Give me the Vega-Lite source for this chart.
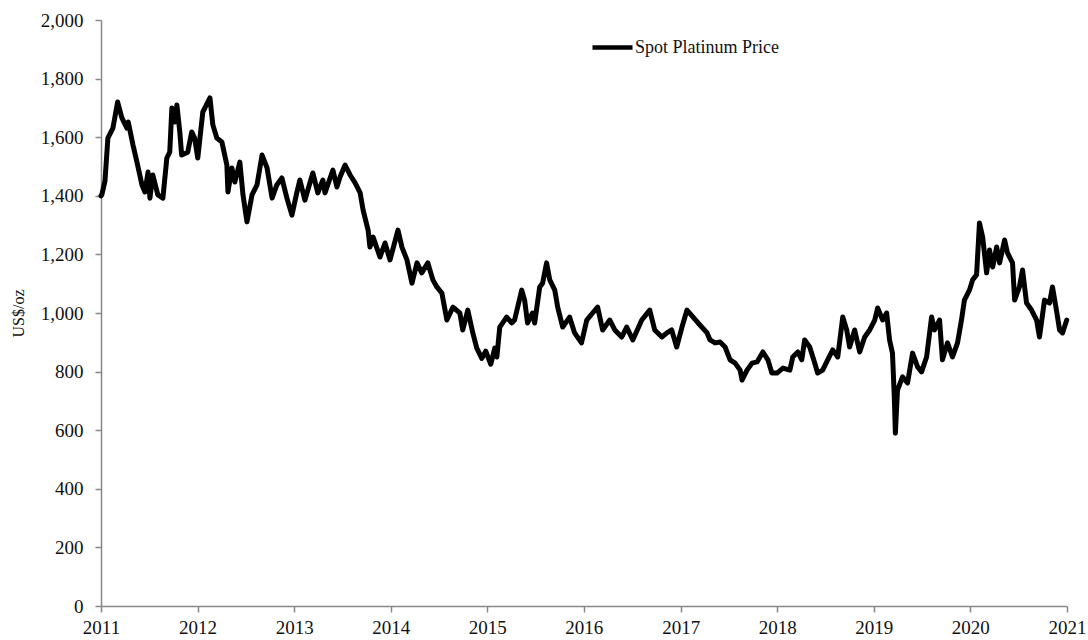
{
  "$schema": "https://vega.github.io/schema/vega-lite/v6.json",
  "width": 966,
  "height": 586,
  "autosize": "none",
  "padding": {"left": 101, "top": 20, "right": 21, "bottom": 34},
  "background": "white",
  "config": {"view": {"stroke": null}, "font": "Liberation Serif"},
  "data": {"values": [
    {"d":"2011-01-01","v":1400},{"d":"2011-01-04","v":1403},{"d":"2011-01-16","v":1450},{"d":"2011-01-27","v":1597},
    {"d":"2011-02-15","v":1631},{"d":"2011-03-05","v":1720},{"d":"2011-03-21","v":1666},{"d":"2011-04-09","v":1631},
    {"d":"2011-04-14","v":1652},{"d":"2011-05-02","v":1573},{"d":"2011-05-17","v":1515},{"d":"2011-06-05","v":1437},
    {"d":"2011-06-16","v":1413},{"d":"2011-06-28","v":1481},{"d":"2011-07-05","v":1392},{"d":"2011-07-16","v":1471},
    {"d":"2011-08-04","v":1403},{"d":"2011-08-23","v":1392},{"d":"2011-09-07","v":1529},{"d":"2011-09-18","v":1549},
    {"d":"2011-09-26","v":1700},{"d":"2011-10-07","v":1652},{"d":"2011-10-15","v":1710},{"d":"2011-10-26","v":1618},
    {"d":"2011-11-02","v":1539},{"d":"2011-11-25","v":1549},{"d":"2011-12-10","v":1618},{"d":"2011-12-21","v":1597},
    {"d":"2012-01-02","v":1529},{"d":"2012-01-21","v":1686},{"d":"2012-02-17","v":1734},{"d":"2012-02-28","v":1642},
    {"d":"2012-03-14","v":1597},{"d":"2012-04-02","v":1584},{"d":"2012-04-21","v":1505},{"d":"2012-04-25","v":1413},
    {"d":"2012-05-10","v":1495},{"d":"2012-05-21","v":1447},{"d":"2012-06-09","v":1515},{"d":"2012-06-21","v":1403},
    {"d":"2012-07-06","v":1311},{"d":"2012-07-25","v":1403},{"d":"2012-08-13","v":1437},{"d":"2012-09-01","v":1539},
    {"d":"2012-09-20","v":1495},{"d":"2012-10-09","v":1392},{"d":"2012-10-27","v":1437},{"d":"2012-11-15","v":1461},
    {"d":"2012-12-04","v":1392},{"d":"2012-12-23","v":1334},{"d":"2013-01-11","v":1413},{"d":"2013-01-22","v":1454},
    {"d":"2013-02-10","v":1385},{"d":"2013-03-12","v":1478},{"d":"2013-03-31","v":1410},{"d":"2013-04-19","v":1454},
    {"d":"2013-04-27","v":1410},{"d":"2013-05-27","v":1488},{"d":"2013-06-11","v":1430},{"d":"2013-06-23","v":1464},
    {"d":"2013-07-12","v":1505},{"d":"2013-07-31","v":1471},{"d":"2013-08-19","v":1444},{"d":"2013-09-07","v":1410},
    {"d":"2013-09-18","v":1352},{"d":"2013-10-07","v":1283},{"d":"2013-10-14","v":1225},{"d":"2013-10-26","v":1259},
    {"d":"2013-11-21","v":1191},{"d":"2013-12-10","v":1239},{"d":"2013-12-29","v":1181},{"d":"2014-01-28","v":1283},
    {"d":"2014-02-12","v":1225},{"d":"2014-03-03","v":1181},{"d":"2014-03-22","v":1102},{"d":"2014-04-10","v":1171},
    {"d":"2014-04-28","v":1137},{"d":"2014-05-21","v":1171},{"d":"2014-06-09","v":1113},{"d":"2014-06-24","v":1089},
    {"d":"2014-07-13","v":1068},{"d":"2014-08-01","v":976},{"d":"2014-08-24","v":1020},{"d":"2014-09-19","v":1000},
    {"d":"2014-09-30","v":942},{"d":"2014-10-19","v":1010},{"d":"2014-11-07","v":932},{"d":"2014-11-22","v":880},
    {"d":"2014-12-11","v":845},{"d":"2014-12-26","v":870},{"d":"2015-01-14","v":825},{"d":"2015-01-29","v":880},
    {"d":"2015-02-06","v":850},{"d":"2015-02-17","v":952},{"d":"2015-03-15","v":986},{"d":"2015-04-03","v":966},
    {"d":"2015-04-14","v":976},{"d":"2015-05-11","v":1078},{"d":"2015-05-22","v":1044},{"d":"2015-06-02","v":966},
    {"d":"2015-06-21","v":1000},{"d":"2015-06-29","v":966},{"d":"2015-07-18","v":1089},{"d":"2015-07-29","v":1102},
    {"d":"2015-08-13","v":1171},{"d":"2015-08-25","v":1113},{"d":"2015-09-13","v":1078},{"d":"2015-09-24","v":1020},
    {"d":"2015-10-13","v":952},{"d":"2015-11-08","v":986},{"d":"2015-11-27","v":932},{"d":"2015-12-23","v":898},
    {"d":"2016-01-12","v":976},{"d":"2016-02-03","v":1000},{"d":"2016-02-22","v":1020},{"d":"2016-03-12","v":942},
    {"d":"2016-04-08","v":976},{"d":"2016-04-27","v":942},{"d":"2016-05-23","v":918},{"d":"2016-06-11","v":952},
    {"d":"2016-07-04","v":908},{"d":"2016-08-07","v":976},{"d":"2016-09-06","v":1010},{"d":"2016-09-25","v":942},
    {"d":"2016-10-22","v":918},{"d":"2016-11-10","v":932},{"d":"2016-11-28","v":942},{"d":"2016-12-17","v":884},
    {"d":"2017-01-06","v":952},{"d":"2017-01-25","v":1010},{"d":"2017-02-17","v":986},{"d":"2017-03-08","v":966},
    {"d":"2017-04-11","v":932},{"d":"2017-04-22","v":908},{"d":"2017-05-11","v":898},{"d":"2017-05-30","v":901},
    {"d":"2017-06-18","v":884},{"d":"2017-07-07","v":840},{"d":"2017-07-26","v":829},{"d":"2017-08-14","v":805},
    {"d":"2017-08-21","v":771},{"d":"2017-09-09","v":805},{"d":"2017-09-28","v":829},{"d":"2017-10-17","v":833},
    {"d":"2017-11-08","v":867},{"d":"2017-11-27","v":840},{"d":"2017-12-12","v":795},{"d":"2017-12-31","v":795},
    {"d":"2018-01-23","v":812},{"d":"2018-02-18","v":805},{"d":"2018-03-01","v":850},{"d":"2018-03-20","v":867},
    {"d":"2018-04-04","v":840},{"d":"2018-04-15","v":908},{"d":"2018-05-04","v":884},{"d":"2018-05-23","v":829},
    {"d":"2018-06-03","v":795},{"d":"2018-06-22","v":805},{"d":"2018-07-11","v":840},{"d":"2018-07-30","v":874},
    {"d":"2018-08-18","v":850},{"d":"2018-09-06","v":986},{"d":"2018-09-21","v":942},{"d":"2018-10-02","v":884},
    {"d":"2018-10-21","v":942},{"d":"2018-11-09","v":867},{"d":"2018-11-28","v":918},{"d":"2018-12-17","v":942},
    {"d":"2019-01-05","v":976},{"d":"2019-01-16","v":1017},{"d":"2019-02-04","v":976},{"d":"2019-02-19","v":1000},
    {"d":"2019-03-02","v":908},{"d":"2019-03-13","v":863},{"d":"2019-03-20","v":713},{"d":"2019-03-24","v":590},
    {"d":"2019-04-01","v":737},{"d":"2019-04-20","v":782},{"d":"2019-05-09","v":761},{"d":"2019-05-28","v":863},
    {"d":"2019-06-16","v":816},{"d":"2019-07-01","v":799},{"d":"2019-07-20","v":850},{"d":"2019-08-08","v":986},
    {"d":"2019-08-19","v":942},{"d":"2019-09-07","v":976},{"d":"2019-09-18","v":840},{"d":"2019-10-07","v":898},
    {"d":"2019-10-26","v":850},{"d":"2019-11-14","v":898},{"d":"2019-11-29","v":976},{"d":"2019-12-10","v":1044},
    {"d":"2019-12-29","v":1078},{"d":"2020-01-10","v":1113},{"d":"2020-01-25","v":1130},{"d":"2020-02-05","v":1307},
    {"d":"2020-02-17","v":1259},{"d":"2020-03-03","v":1137},{"d":"2020-03-14","v":1215},{"d":"2020-03-26","v":1157},
    {"d":"2020-04-10","v":1225},{"d":"2020-04-21","v":1171},{"d":"2020-05-10","v":1249},{"d":"2020-05-21","v":1205},
    {"d":"2020-06-09","v":1171},{"d":"2020-06-17","v":1044},{"d":"2020-07-05","v":1089},{"d":"2020-07-17","v":1147},
    {"d":"2020-08-01","v":1034},{"d":"2020-08-20","v":1010},{"d":"2020-09-08","v":976},{"d":"2020-09-19","v":918},
    {"d":"2020-10-08","v":1044},{"d":"2020-10-27","v":1034},{"d":"2020-11-07","v":1089},{"d":"2020-11-22","v":1010},
    {"d":"2020-12-04","v":942},{"d":"2020-12-15","v":932},{"d":"2020-12-31","v":976}
  ]},
  "transform": [{"calculate": "'Spot Platinum Price'", "as": "series"}],
  "mark": {"type": "line", "strokeWidth": 5, "strokeJoin": "round", "strokeCap": "round", "interpolate": "linear"},
  "encoding": {
    "x": {
      "field": "d", "type": "temporal", "title": null,
      "scale": {"domain": ["2011-01-01T00:00:00", "2021-01-01T00:00:00"], "nice": false},
      "axis": {
        "format": "%Y", "tickCount": {"interval": "year", "step": 1}, "grid": false,
        "domainColor": "#888888", "tickColor": "#888888", "tickSize": 6, "domainWidth": 1.5, "tickWidth": 1.5,
        "labelFont": "Liberation Serif", "labelFontSize": 19, "labelColor": "#111111", "labelPadding": 6,
        "labelFlush": false, "labelOverlap": false
      }
    },
    "y": {
      "field": "v", "type": "quantitative", "title": "US$/oz",
      "scale": {"domain": [0, 2000], "nice": false},
      "axis": {
        "format": ",.0f", "values": [0,200,400,600,800,1000,1200,1400,1600,1800,2000], "grid": false,
        "domainColor": "#888888", "tickColor": "#888888", "tickSize": 6, "domainWidth": 1.5, "tickWidth": 1.5,
        "labelFont": "Liberation Serif", "labelFontSize": 19, "labelColor": "#111111", "labelPadding": 12,
        "titleFont": "Liberation Serif", "titleFontSize": 16, "titleFontWeight": "normal", "titleColor": "#111111",
        "titlePadding": 14
      }
    },
    "color": {
      "field": "series", "type": "nominal", "title": null,
      "scale": {"range": ["#000000"]},
      "legend": {
        "orient": "none", "legendX": 489, "legendY": 5,
        "symbolType": "stroke", "symbolSize": 1600, "symbolStrokeWidth": 4.5, "symbolStrokeColor": "#000000",
        "labelFont": "Liberation Serif", "labelFontSize": 18, "labelColor": "#111111", "labelOffset": 0
      }
    }
  }
}
